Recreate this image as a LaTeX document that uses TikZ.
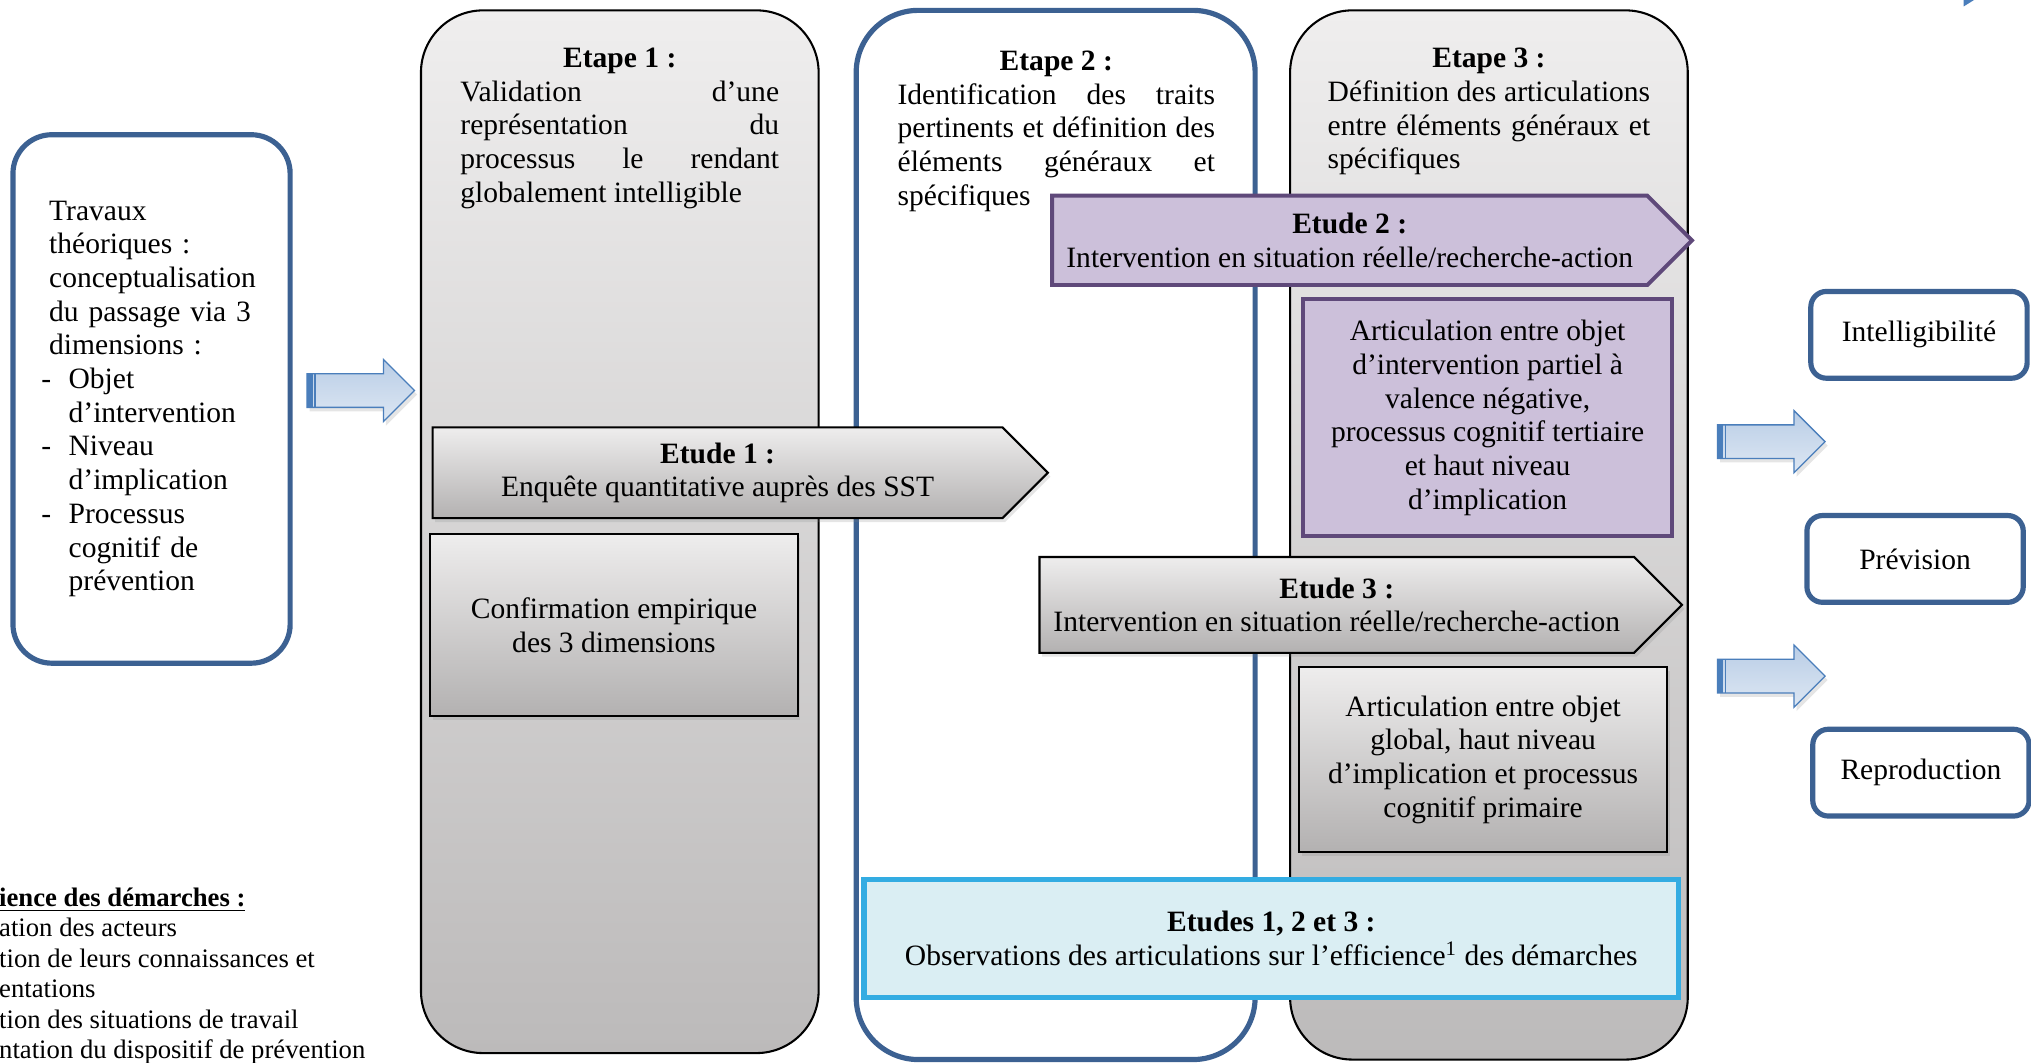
\documentclass[tikz,border=0pt]{standalone}
\usepackage{fontspec}
\setmainfont{Liberation Serif}
\usepackage{xcolor}
\usepackage{tikz}
\usetikzlibrary{positioning,shapes.symbols,shapes.arrows,shadows}

\definecolor{cadreBleu}{HTML}{3C6192}
\definecolor{grisHaut}{HTML}{EFEEEE}
\definecolor{grisBas}{HTML}{BCBABA}
\definecolor{boiteHaut}{HTML}{EEEDED}
\definecolor{boiteBas}{HTML}{B3B1B1}
\definecolor{violetFond}{HTML}{CCC0DA}
\definecolor{violetBord}{HTML}{5F497A}
\definecolor{cyanFond}{HTML}{DAEEF3}
\definecolor{cyanBord}{HTML}{33ACE2}
\definecolor{flecheHaut}{HTML}{B9CDE6}
\definecolor{flecheBas}{HTML}{DDE7F3}
\definecolor{flecheBord}{HTML}{4A7EBB}

\newcommand{\tiret}{\hspace*{-3pt}\makebox[10.5pt][l]{-}}
\newcommand{\retrait}{\hspace*{7.5pt}}

\begin{document}
\begin{tikzpicture}[
    x=0.5pt,y=-0.5pt,
    node distance=2.3pt,
    every node/.style={font=\fontsize{11.4}{13}\selectfont,inner sep=0pt},
    colonne/.style={rectangle,draw=black,line width=0.8pt,rounded corners=24pt,top color=grisHaut,bottom color=grisBas,minimum width=153.5pt,minimum height=405pt},
    colonnebleue/.style={rectangle,draw=cadreBleu,line width=2pt,rounded corners=24pt,fill=white,minimum width=154pt,minimum height=405pt},
    titre/.style={font=\fontsize{11.4}{13}\selectfont\bfseries},
    corps/.style={text width=123pt,align=justify},
    theorie/.style={rectangle,draw=cadreBleu,line width=2pt,rounded corners=15pt,minimum width=107pt,minimum height=204pt,text width=79pt,align=left},
    ombre/.style={drop shadow={shadow xshift=1pt,shadow yshift=-1.5pt,opacity=0.2}},
    chevron/.style={signal,signal to=east,signal pointer angle=90,align=center,minimum height=35pt},
    chevrongris/.style={chevron,draw=black,line width=0.8pt,top color=boiteHaut,bottom color=boiteBas,ombre},
    chevronviolet/.style={chevron,draw=violetBord,line width=1.5pt,fill=violetFond},
    boite/.style={rectangle,draw=black,line width=0.8pt,top color=boiteHaut,bottom color=boiteBas,align=center,ombre},
    boiteviolette/.style={rectangle,draw=violetBord,line width=1.5pt,fill=violetFond,align=center},
    boitecyan/.style={rectangle,draw=cyanBord,line width=2pt,fill=cyanFond,align=center,minimum width=314.5pt,minimum height=45.5pt},
    resultat/.style={rectangle,draw=cadreBleu,line width=2pt,rounded corners=6pt,fill=white,minimum width=83.5pt,minimum height=33.5pt},
    fleche/.style={single arrow,single arrow head extend=5.5pt,inner ysep=6.25pt,minimum height=41.5pt,minimum width=23.5pt,draw=flecheBord,line width=0.5pt,top color=flecheHaut,bottom color=flecheBas,ombre,
        path picture={
            \fill[flecheBord] (path picture bounding box.south west) rectangle ([xshift=2.2pt]path picture bounding box.north west);
            \fill[flecheBord] ([xshift=2.8pt]path picture bounding box.south west) rectangle ([xshift=3.3pt]path picture bounding box.north west);
        }},
    legende/.style={font=\fontsize{10.3}{11.75}\selectfont,align=left}
]
    \path[use as bounding box,fill=white] (0,0) rectangle (1568,820);

    % Cadre theorique
    \node[theorie] (THEO) at (117,308) {Travaux\\théoriques :\\conceptualisation\\du passage via 3\\dimensions :\\\tiret Objet\\\retrait d'intervention\\\tiret Niveau\\\retrait d'implication\\\tiret Processus\\\retrait cognitif de\\\retrait prévention};

    % Etapes
    \node[colonne,minimum height=402.5pt] (ETAPE1) at (478.5,410.5) {};
    \node[titre] (TIT1) at (478.5,47) {Etape 1 :};
    \node[corps,below=of TIT1] (TXT1) {Validation d'une\linebreak représentation du\linebreak processus le rendant\linebreak globalement intelligible};

    \node[colonnebleue] (ETAPE2) at (815,413) {};
    \node[titre] (TIT2) at (815.5,49) {Etape 2 :};
    \node[corps,text width=122.5pt,below=of TIT2] (TXT2) {Identification des traits\linebreak pertinents et définition des\linebreak éléments généraux et\linebreak spécifiques};

    \node[colonne] (ETAPE3) at (1149.5,413) {};
    \node[titre] (TIT3) at (1149.5,47) {Etape 3 :};
    \node[corps,text width=124.5pt,below=of TIT3] (TXT3) {Définition des articulations\linebreak entre éléments généraux et\linebreak spécifiques};

    % Etudes
    \node[chevrongris,minimum width=237.5pt] (ETUDE1) at (554,365) {\textbf{Etude 1 :}\\Enquête quantitative auprès des SST};
    \node[boite,minimum width=142pt,minimum height=70.5pt] (CONF) at (474,482.5) {Confirmation empirique\\des 3 dimensions};

    \node[chevronviolet,minimum width=247pt,minimum height=34.5pt] (ETUDE2) at (1042,185.5) {\textbf{Etude 2 :}\\Intervention en situation réelle/recherche-action};
    \node[boiteviolette,minimum width=142.5pt,minimum height=91.5pt] (ART1) at (1148.5,322.5) {Articulation entre objet\\d'intervention partiel à\\valence négative,\\processus cognitif tertiaire\\et haut niveau\\d'implication};

    \node[chevrongris,minimum width=248pt,minimum height=37pt] (ETUDE3) at (1032,467) {\textbf{Etude 3 :}\\Intervention en situation réelle/recherche-action};
    \node[boite,minimum width=142pt,minimum height=71.5pt] (ART2) at (1145,586.5) {Articulation entre objet\\global, haut niveau\\d'implication et processus\\cognitif primaire};

    \node[boitecyan] (OBS) at (981.5,724.5) {\textbf{Etudes 1, 2 et 3 :}\\Observations des articulations sur l'efficience\textsuperscript{1} des démarches};

    % Fleches
    \node[fleche] (FL1) at (272,301.5) {};
    \node[fleche] (FL2) at (1361,341) {};
    \node[fleche] (FL3) at (1361,522) {};

    % Resultats
    \node[resultat] (INTEL) at (1481.5,258.5) {Intelligibilité};
    \node[resultat] (PREV) at (1478.5,431.5) {Prévision};
    \node[resultat] (REPRO) at (1483,596.5) {Reproduction};

    % Legende (coupee au bord)
    \node[legende,anchor=north west] (LEG) at (-1,685) {\underline{\textbf{ience des démarches :}}\\ation des acteurs\\tion de leurs connaissances et\\entations\\tion des situations de travail\\ntation du dispositif de prévention};

    \fill[flecheBord] (1516,0) -- (1524,0) -- (1516,5) -- cycle;
\end{tikzpicture}
\end{document}
